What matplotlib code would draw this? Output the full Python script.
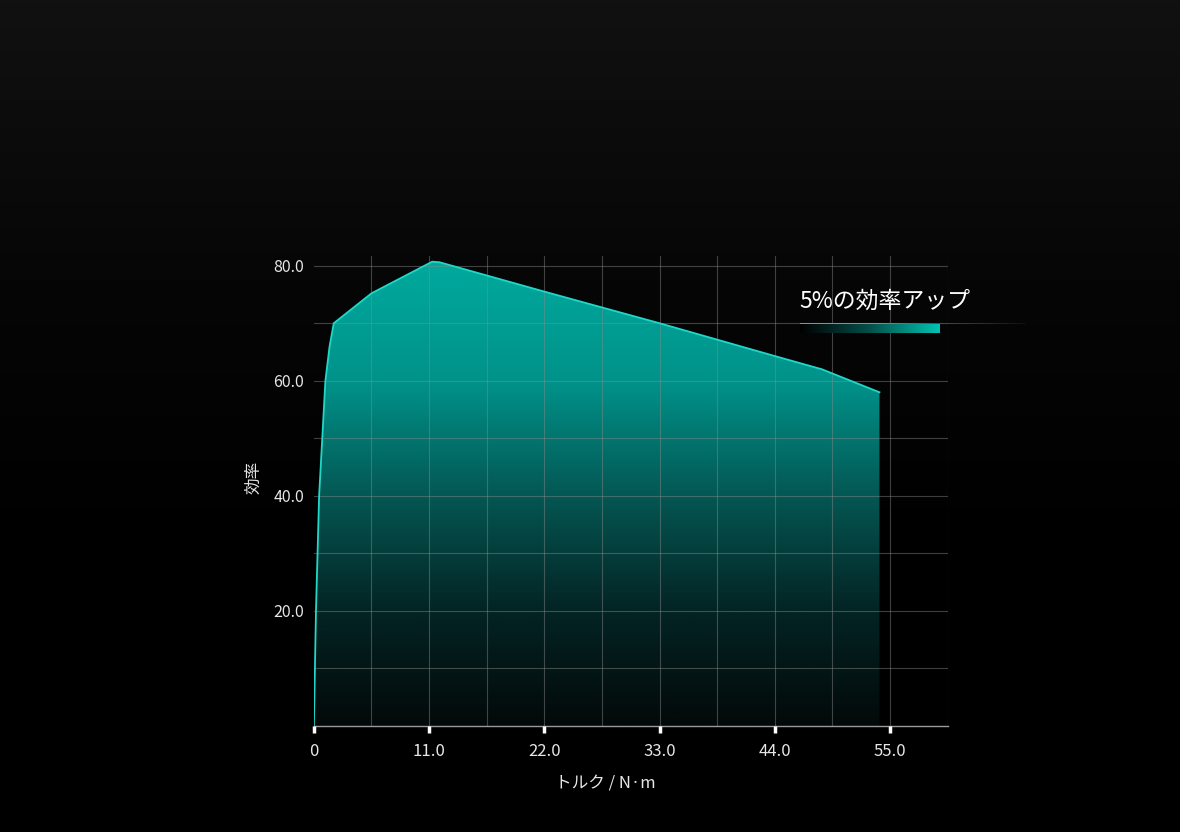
import numpy as np
import matplotlib.pyplot as plt
from matplotlib.colors import LinearSegmentedColormap
from matplotlib.patches import Polygon

plt.rcParams['font.family'] = ['Noto Sans CJK JP', 'DejaVu Sans']

# データ
torque = [0, 0.2, 0.5, 0.8, 1.1, 1.5, 1.9, 5.5, 11.3, 12.0, 22.0, 33.0, 44.0, 48.5, 54.0]
efficiency = [0, 20.0, 40.0, 50.0, 60.0, 66.0, 70.0, 75.2, 80.7, 80.6, 75.5, 70.0, 64.3, 62.0, 58.0]
x_ticks = [0, 11, 22, 33, 44, 55]
x_labels = ['0', '11.0', '22.0', '33.0', '44.0', '55.0']
y_ticks = [20, 40, 60, 80]
y_labels = ['20.0', '40.0', '60.0', '80.0']
legend_text = '5%の効率アップ'

fig = plt.figure(figsize=(11.8, 8.32), dpi=100, facecolor='black')

# 背景(上部が少し明るい)
bg = fig.add_axes([0, 0, 1, 1], zorder=-10)
grad = np.linspace(0, 1, 256).reshape(-1, 1)
bg_cmap = LinearSegmentedColormap.from_list('bg', ['#000000', '#000000', '#060606', '#111111'])
bg.imshow(grad, aspect='auto', cmap=bg_cmap, origin='lower', extent=[0, 1, 0, 1])
bg.set_axis_off()

ax = fig.add_axes([0.266, 0.1274, 0.537, 0.565])
ax.set_facecolor('none')

# グラデーション塗り
fill_cmap = LinearSegmentedColormap.from_list(
    'fill', [(0, '#030909'), (0.25, '#032424'), (0.5, '#045854'), (0.74, '#00928a'), (1.0, '#00a99d')])
verts = list(zip(torque, efficiency)) + [(torque[-1], 0)]
poly = Polygon(verts, closed=True, facecolor='none', edgecolor='none')
ax.add_patch(poly)
img = ax.imshow(np.linspace(0, 1, 256).reshape(-1, 1), aspect='auto', cmap=fill_cmap,
                origin='lower', extent=[0, max(torque), 0, max(efficiency)], zorder=2)
img.set_clip_path(poly)
ax.plot(torque, efficiency, color='#1fd8c8', lw=1.3, zorder=3)
ax.set_xlim(0, 60.5)
ax.set_ylim(0, 81.7)

# グリッド
ax.set_xticks(x_ticks)
ax.set_xticklabels(x_labels)
ax.set_yticks(y_ticks)
ax.set_yticklabels(y_labels)
ax.set_xticks(np.arange(5.5, 61, 11), minor=True)
ax.set_yticks(np.arange(10, 81, 20), minor=True)
ax.grid(which='both', color='#8a8a8a', alpha=0.45, lw=0.8, zorder=4)
ax.set_axisbelow(False)
ax.get_xgridlines()[0].set_visible(False)  # x=0 の縦線なし

ax.tick_params(axis='x', which='major', colors='white', length=5, width=2.5, labelsize=12,
               labelcolor='#e6e6e6', pad=7)
ax.tick_params(axis='y', which='major', length=0, labelsize=11.5, labelcolor='#e6e6e6', pad=7)
ax.tick_params(which='minor', length=0)

for s in ['top', 'right', 'left']:
    ax.spines[s].set_visible(False)
ax.spines['bottom'].set_color('#9a9a9a')
ax.spines['bottom'].set_linewidth(1)

ax.set_xlabel('トルク / N·m', color='#e6e6e6', fontsize=12)
ax.xaxis.set_label_coords(0.46, -0.105)
ax.set_ylabel('効率', color='#e6e6e6', fontsize=12)
ax.yaxis.set_label_coords(-0.082, 0.528)

# 凡例風の注記
fig.text(799 / 1180, 1 - 308 / 832, legend_text, color='white', fontsize=16.5, ha='left', va='baseline')
leg_line = fig.add_axes([800 / 1180, 1 - 324 / 832, 225 / 1180, 1.5 / 832])
leg_line.imshow(np.linspace(0, 1, 256).reshape(1, -1), aspect='auto',
                cmap=LinearSegmentedColormap.from_list('ln', ['#13c6b6', '#13c6b6', '#0b5a55', '#111111']),
                extent=[0, 1, 0, 1])
leg_line.set_axis_off()
leg_bar = fig.add_axes([800 / 1180, 1 - 333 / 832, 140 / 1180, 9 / 832])
leg_bar.imshow(np.linspace(0, 1, 256).reshape(1, -1), aspect='auto',
               cmap=LinearSegmentedColormap.from_list('bar', ['#000000', '#05504b', '#00c4b3']),
               extent=[0, 1, 0, 1])
leg_bar.set_axis_off()

fig.savefig('out.png', dpi=100, facecolor='black')
